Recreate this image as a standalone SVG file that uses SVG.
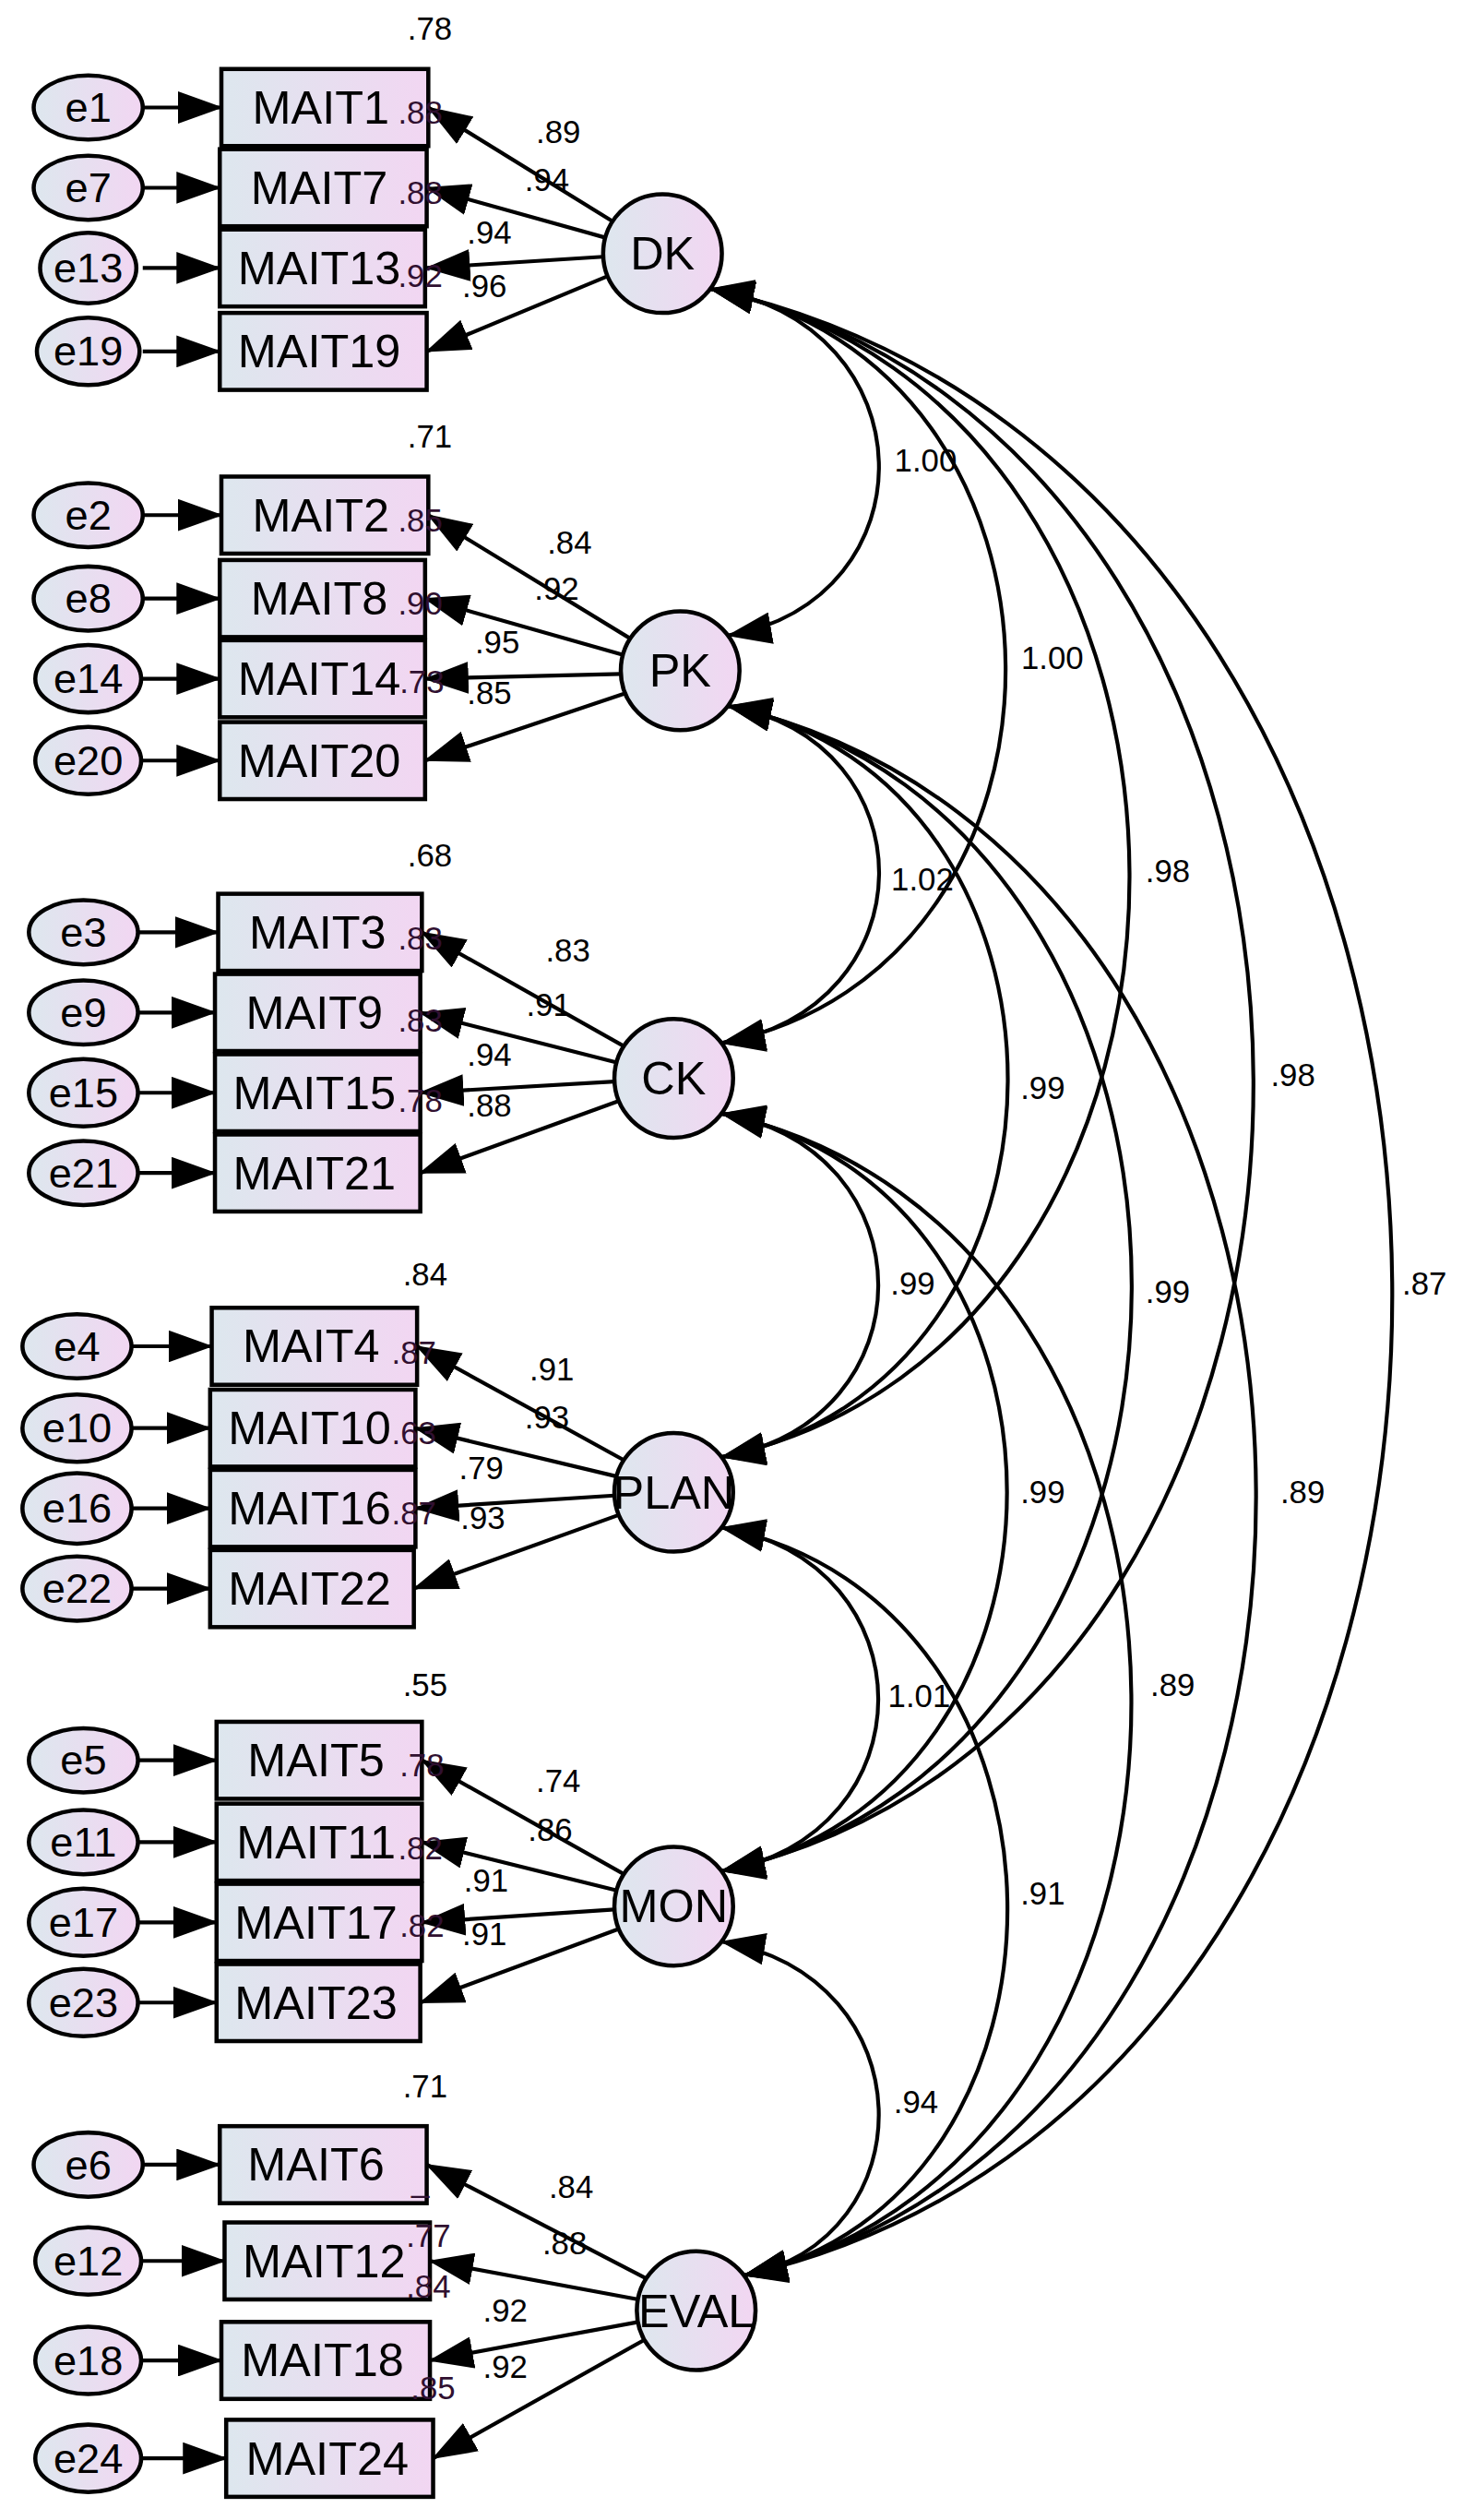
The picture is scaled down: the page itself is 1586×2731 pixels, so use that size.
<svg xmlns="http://www.w3.org/2000/svg" width="1586" height="2731" viewBox="0 0 1586 2731">
<defs>
<linearGradient id="g" x1="0" y1="0" x2="1" y2="0"><stop offset="0" stop-color="#dde7ee"/><stop offset="1" stop-color="#f2d6f2"/></linearGradient>
<marker id="ah" markerUnits="userSpaceOnUse" viewBox="0 0 28 20" refX="27" refY="10" markerWidth="28" markerHeight="20" orient="auto-start-reverse"><path d="M0,0 L28,10 L0,20 z" fill="#000"/></marker>
<style>
.n{fill:url(#g);stroke:#000;stroke-width:2.6}
.c{fill:none;stroke:#000;stroke-width:2.4}
.a{fill:none;stroke:#000;stroke-width:2.4;marker-end:url(#ah)}
.t{font-family:"Liberation Sans",Arial,sans-serif;fill:#000}
.big{font-size:29px;text-anchor:middle}
.e{font-size:26px;text-anchor:middle}
.v{font-size:20px;text-anchor:middle}
.s{font-size:20px;text-anchor:middle;fill:#301030}
</style>
</defs>
<rect width="1586" height="2731" fill="#fff"/>
<g transform="scale(1.739)">
<g id="connectors">
<path class="a" d="M89,67H138"/><path class="a" d="M89,117H137"/><path class="a" d="M89,167H137"/><path class="a" d="M89,219H137"/>
<path class="a" d="M89,321H138"/><path class="a" d="M89,373H137"/><path class="a" d="M89,423H137"/><path class="a" d="M89,474H137"/>
<path class="a" d="M86,581H136"/><path class="a" d="M86,631H134"/><path class="a" d="M86,681H134"/><path class="a" d="M86,731H134"/>
<path class="a" d="M82,839H132"/><path class="a" d="M82,890H131"/><path class="a" d="M82,940H131"/><path class="a" d="M82,990H131"/>
<path class="a" d="M86,1097H135"/><path class="a" d="M86,1148H135"/><path class="a" d="M86,1198H135"/><path class="a" d="M86,1248H135"/>
<path class="a" d="M89,1349H137"/><path class="a" d="M89,1409H140"/><path class="a" d="M89,1471H138"/><path class="a" d="M89,1532H141"/>
<path class="a" d="M382,138L267,67"/><path class="a" d="M377,148L266,117"/><path class="a" d="M376,160L266,167"/><path class="a" d="M379,172L266,219"/>
<path class="a" d="M393,398L267,321"/><path class="a" d="M388,408L265,373"/><path class="a" d="M387,420L265,423"/><path class="a" d="M390,432L265,474"/>
<path class="a" d="M389,652L263,581"/><path class="a" d="M384,662L262,631"/><path class="a" d="M383,674L262,681"/><path class="a" d="M386,686L262,731"/>
<path class="a" d="M389,910L260,839"/><path class="a" d="M384,920L259,890"/><path class="a" d="M383,932L259,940"/><path class="a" d="M386,944L258,990"/>
<path class="a" d="M389,1168L263,1097"/><path class="a" d="M384,1178L263,1148"/><path class="a" d="M383,1190L263,1198"/><path class="a" d="M386,1202L262,1248"/>
<path class="a" d="M403,1420L266,1349"/><path class="a" d="M398,1433L268,1409"/><path class="a" d="M398,1447L268,1471"/><path class="a" d="M402,1458L270,1532"/>
<g marker-start="url(#ah)" marker-end="url(#ah)">
<path class="c" d="M443,180C581,202 581,374 454,396"/>
<path class="c" d="M454,440C580,462 580,628 450,650"/>
<path class="c" d="M450,694C580,716 580,886 450,908"/>
<path class="c" d="M450,952C580,974 580,1144 450,1166"/>
<path class="c" d="M450,1210C578,1232 578,1396 464,1418"/>
<path class="c" d="M443,180C687,227 687,603 450,650"/>
<path class="c" d="M454,440C687,487 687,861 450,908"/>
<path class="c" d="M450,694C687,741 687,1119 450,1166"/>
<path class="c" d="M450,952C685,999 685,1371 464,1418"/>
<path class="c" d="M443,180C790,253 790,835 450,908"/>
<path class="c" d="M454,440C790,513 790,1093 450,1166"/>
<path class="c" d="M450,694C788,767 788,1345 464,1418"/>
<path class="c" d="M443,180C893,279 893,1067 450,1166"/>
<path class="c" d="M454,440C891,539 891,1319 464,1418"/>
<path class="c" d="M443,180C1006,304 1006,1294 464,1418"/>
</g>
</g>
<g id="latents">
<g id="DK"><circle class="n" cx="413" cy="158" r="37"/><text class="t big" x="413" y="168">DK</text></g>
<g id="PK"><circle class="n" cx="424" cy="418" r="37"/><text class="t big" x="424" y="428">PK</text></g>
<g id="CK"><circle class="n" cx="420" cy="672" r="37"/><text class="t big" x="420" y="682">CK</text></g>
<g id="PLAN"><circle class="n" cx="420" cy="930" r="37"/><text class="t big" x="420" y="940" font-size="27">PLAN</text></g>
<g id="MON"><circle class="n" cx="420" cy="1188" r="37"/><text class="t big" x="420" y="1198">MON</text></g>
<g id="EVAL"><circle class="n" cx="434" cy="1440" r="37"/><text class="t big" x="434" y="1450" font-size="27">EVAL</text></g>
</g>
<g id="indicators">
<g id="MAIT1"><rect class="n" x="138" y="43" width="129" height="48"/><text class="t big" x="200" y="77">MAIT1</text></g>
<g id="MAIT7"><rect class="n" x="137" y="93" width="129" height="48"/><text class="t big" x="199" y="127">MAIT7</text></g>
<g id="MAIT13"><rect class="n" x="137" y="143" width="128" height="48"/><text class="t big" x="199" y="177">MAIT13</text></g>
<g id="MAIT19"><rect class="n" x="137" y="195" width="129" height="48"/><text class="t big" x="199" y="229">MAIT19</text></g>
<g id="MAIT2"><rect class="n" x="138" y="297" width="129" height="48"/><text class="t big" x="200" y="331">MAIT2</text></g>
<g id="MAIT8"><rect class="n" x="137" y="349" width="128" height="48"/><text class="t big" x="199" y="383">MAIT8</text></g>
<g id="MAIT14"><rect class="n" x="137" y="399" width="128" height="48"/><text class="t big" x="199" y="433">MAIT14</text></g>
<g id="MAIT20"><rect class="n" x="137" y="450" width="128" height="48"/><text class="t big" x="199" y="484">MAIT20</text></g>
<g id="MAIT3"><rect class="n" x="136" y="557" width="127" height="48"/><text class="t big" x="198" y="591">MAIT3</text></g>
<g id="MAIT9"><rect class="n" x="134" y="607" width="128" height="48"/><text class="t big" x="196" y="641">MAIT9</text></g>
<g id="MAIT15"><rect class="n" x="134" y="657" width="128" height="48"/><text class="t big" x="196" y="691">MAIT15</text></g>
<g id="MAIT21"><rect class="n" x="134" y="707" width="128" height="48"/><text class="t big" x="196" y="741">MAIT21</text></g>
<g id="MAIT4"><rect class="n" x="132" y="815" width="128" height="48"/><text class="t big" x="194" y="849">MAIT4</text></g>
<g id="MAIT10"><rect class="n" x="131" y="866" width="128" height="48"/><text class="t big" x="193" y="900">MAIT10</text></g>
<g id="MAIT16"><rect class="n" x="131" y="916" width="128" height="48"/><text class="t big" x="193" y="950">MAIT16</text></g>
<g id="MAIT22"><rect class="n" x="131" y="966" width="127" height="48"/><text class="t big" x="193" y="1000">MAIT22</text></g>
<g id="MAIT5"><rect class="n" x="135" y="1073" width="128" height="48"/><text class="t big" x="197" y="1107">MAIT5</text></g>
<g id="MAIT11"><rect class="n" x="135" y="1124" width="128" height="48"/><text class="t big" x="197" y="1158">MAIT11</text></g>
<g id="MAIT17"><rect class="n" x="135" y="1174" width="128" height="48"/><text class="t big" x="197" y="1208">MAIT17</text></g>
<g id="MAIT23"><rect class="n" x="135" y="1224" width="127" height="48"/><text class="t big" x="197" y="1258">MAIT23</text></g>
<g id="MAIT6"><rect class="n" x="137" y="1325" width="129" height="48"/><text class="t big" x="197" y="1359">MAIT6</text></g>
<g id="MAIT12"><rect class="n" x="140" y="1385" width="128" height="48"/><text class="t big" x="202" y="1419">MAIT12</text></g>
<g id="MAIT18"><rect class="n" x="138" y="1447" width="130" height="48"/><text class="t big" x="201" y="1481">MAIT18</text></g>
<g id="MAIT24"><rect class="n" x="141" y="1508" width="129" height="48"/><text class="t big" x="204" y="1542">MAIT24</text></g>
</g>
<g id="errors">
<g id="e1"><ellipse class="n" cx="55" cy="67" rx="34" ry="20"/><text class="t e" x="55" y="76">e1</text></g>
<g id="e7"><ellipse class="n" cx="55" cy="117" rx="34" ry="20"/><text class="t e" x="55" y="126">e7</text></g>
<g id="e13"><ellipse class="n" cx="55" cy="167" rx="30" ry="22"/><text class="t e" x="55" y="176">e13</text></g>
<g id="e19"><ellipse class="n" cx="55" cy="219" rx="32" ry="21"/><text class="t e" x="55" y="228">e19</text></g>
<g id="e2"><ellipse class="n" cx="55" cy="321" rx="34" ry="20"/><text class="t e" x="55" y="330">e2</text></g>
<g id="e8"><ellipse class="n" cx="55" cy="373" rx="34" ry="20"/><text class="t e" x="55" y="382">e8</text></g>
<g id="e14"><ellipse class="n" cx="55" cy="423" rx="33" ry="21"/><text class="t e" x="55" y="432">e14</text></g>
<g id="e20"><ellipse class="n" cx="55" cy="474" rx="33" ry="21"/><text class="t e" x="55" y="483">e20</text></g>
<g id="e3"><ellipse class="n" cx="52" cy="581" rx="34" ry="20"/><text class="t e" x="52" y="590">e3</text></g>
<g id="e9"><ellipse class="n" cx="52" cy="631" rx="34" ry="20"/><text class="t e" x="52" y="640">e9</text></g>
<g id="e15"><ellipse class="n" cx="52" cy="681" rx="34" ry="21"/><text class="t e" x="52" y="690">e15</text></g>
<g id="e21"><ellipse class="n" cx="52" cy="731" rx="34" ry="20"/><text class="t e" x="52" y="740">e21</text></g>
<g id="e4"><ellipse class="n" cx="48" cy="839" rx="34" ry="20"/><text class="t e" x="48" y="848">e4</text></g>
<g id="e10"><ellipse class="n" cx="48" cy="890" rx="34" ry="21"/><text class="t e" x="48" y="899">e10</text></g>
<g id="e16"><ellipse class="n" cx="48" cy="940" rx="34" ry="22"/><text class="t e" x="48" y="949">e16</text></g>
<g id="e22"><ellipse class="n" cx="48" cy="990" rx="34" ry="20"/><text class="t e" x="48" y="999">e22</text></g>
<g id="e5"><ellipse class="n" cx="52" cy="1097" rx="34" ry="20"/><text class="t e" x="52" y="1106">e5</text></g>
<g id="e11"><ellipse class="n" cx="52" cy="1148" rx="34" ry="20"/><text class="t e" x="52" y="1157">e11</text></g>
<g id="e17"><ellipse class="n" cx="52" cy="1198" rx="34" ry="21"/><text class="t e" x="52" y="1207">e17</text></g>
<g id="e23"><ellipse class="n" cx="52" cy="1248" rx="34" ry="21"/><text class="t e" x="52" y="1257">e23</text></g>
<g id="e6"><ellipse class="n" cx="55" cy="1349" rx="34" ry="20"/><text class="t e" x="55" y="1358">e6</text></g>
<g id="e12"><ellipse class="n" cx="55" cy="1409" rx="33" ry="21"/><text class="t e" x="55" y="1418">e12</text></g>
<g id="e18"><ellipse class="n" cx="55" cy="1471" rx="33" ry="21"/><text class="t e" x="55" y="1480">e18</text></g>
<g id="e24"><ellipse class="n" cx="55" cy="1532" rx="33" ry="21"/><text class="t e" x="55" y="1541">e24</text></g>
</g>
<g id="labels" class="t">
<text class="v" x="268" y="25">.78</text><text class="s" x="262" y="77">.88</text><text class="s" x="262" y="127">.88</text><text class="s" x="262" y="179">.92</text>
<text class="v" x="348" y="89">.89</text><text class="v" x="341" y="119">.94</text><text class="v" x="305" y="152">.94</text><text class="v" x="302" y="185">.96</text>
<text class="v" x="268" y="279">.71</text><text class="s" x="262" y="331">.85</text><text class="s" x="262" y="383">.90</text><text class="s" x="263" y="432">.73</text>
<text class="v" x="355" y="345">.84</text><text class="v" x="347" y="374">.92</text><text class="v" x="310" y="407">.95</text><text class="v" x="305" y="439">.85</text>
<text class="v" x="268" y="540">.68</text><text class="s" x="262" y="592">.83</text><text class="s" x="262" y="643">.83</text><text class="s" x="262" y="693">.78</text>
<text class="v" x="354" y="599">.83</text><text class="v" x="342" y="633">.91</text><text class="v" x="305" y="664">.94</text><text class="v" x="305" y="696">.88</text>
<text class="v" x="265" y="801">.84</text><text class="s" x="258" y="850">.87</text><text class="s" x="258" y="900">.63</text><text class="s" x="258" y="950">.87</text>
<text class="v" x="344" y="860">.91</text><text class="v" x="341" y="890">.93</text><text class="v" x="300" y="922">.79</text><text class="v" x="301" y="953">.93</text>
<text class="v" x="265" y="1057">.55</text><text class="s" x="263" y="1107">.78</text><text class="s" x="262" y="1159">.82</text><text class="s" x="263" y="1207">.82</text>
<text class="v" x="348" y="1117">.74</text><text class="v" x="343" y="1147">.86</text><text class="v" x="303" y="1179">.91</text><text class="v" x="302" y="1212">.91</text>
<text class="v" x="265" y="1307">.71</text><text class="s" x="262" y="1366">_</text><text class="s" x="267" y="1400">.77</text><text class="s" x="267" y="1432">.84</text><text class="s" x="270" y="1495">.85</text>
<text class="v" x="356" y="1370">.84</text><text class="v" x="352" y="1405">.88</text><text class="v" x="315" y="1447">.92</text><text class="v" x="315" y="1482">.92</text>
<text class="v" x="577" y="294">1.00</text><text class="v" x="575" y="555">1.02</text><text class="v" x="569" y="807">.99</text><text class="v" x="573" y="1064">1.01</text><text class="v" x="571" y="1317">.94</text>
<text class="v" x="656" y="417">1.00</text><text class="v" x="650" y="685">.99</text><text class="v" x="650" y="937">.99</text><text class="v" x="650" y="1187">.91</text>
<text class="v" x="728" y="550">.98</text><text class="v" x="728" y="812">.99</text><text class="v" x="731" y="1057">.89</text>
<text class="v" x="806" y="677">.98</text><text class="v" x="812" y="937">.89</text>
<text class="v" x="888" y="807">.87</text>
</g>
</g>
</svg>
